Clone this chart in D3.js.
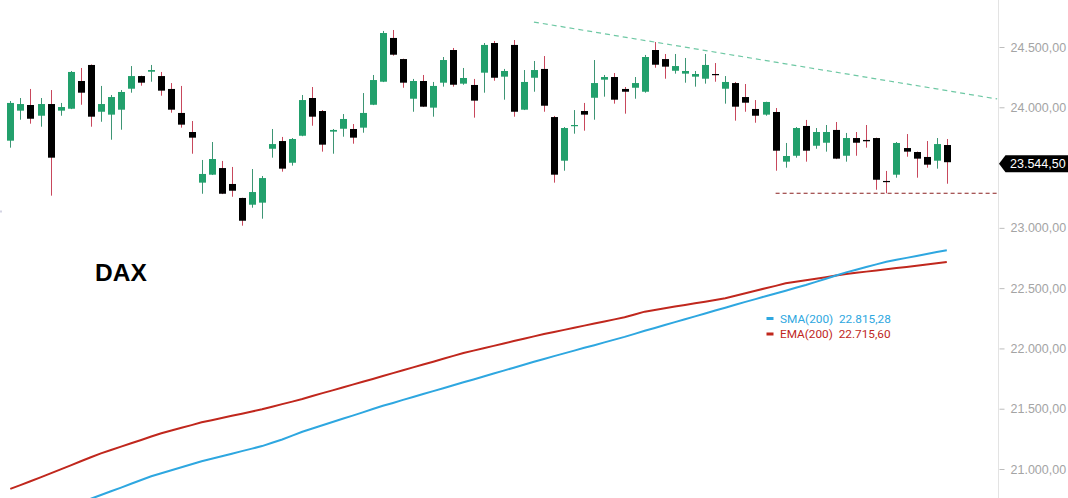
<!DOCTYPE html>
<html><head><meta charset="utf-8">
<script src="https://cdn.jsdelivr.net/npm/d3@7"></script>
<style>html,body{margin:0;padding:0;background:#fff;overflow:hidden}</style>
</head><body>
<svg id="c" width="1068" height="498"></svg>
<script>
// ---- data ----
// candles: [open, high, low, close]
const candles = [
[23723,24052,23665,24036],[23972,24077,23897,24027],[24019,24152,23864,23905],[23930,24077,23839,24027],
[24027,24143,23267,23582],[23972,24036,23930,24002],[23988,24301,23985,24293],[24218,24326,24021,24121],
[24351,24355,23839,23922],[23963,24177,23880,24027],[23939,24102,23731,24085],[23980,24143,23814,24127],
[24154,24342,24121,24259],[24259,24262,24179,24204],[24295,24351,24212,24309],[24259,24293,24096,24138],
[24152,24201,23955,23980],[23953,24177,23831,23856],[23795,23886,23615,23748],[23375,23563,23283,23447],
[23441,23712,23438,23571],[23496,23555,23280,23283],[23364,23505,23258,23308],[23248,23250,23018,23059],
[23192,23488,23167,23297],[23209,23430,23076,23413],[23656,23820,23582,23695],[23720,23754,23466,23491],
[23540,23745,23516,23737],[23764,24102,23760,24060],[24077,24168,23847,23922],[23969,23977,23632,23690],
[23798,23820,23615,23812],[23822,23944,23756,23903],[23820,23861,23698,23748],[23831,24118,23789,23953],
[24021,24268,24018,24226],[24212,24633,24209,24616],[24575,24641,24428,24436],[24400,24403,24162,24204],
[24071,24235,23963,24218],[24218,24268,24002,24005],[23997,24210,23922,24177],[24204,24417,24171,24392],
[24475,24492,24171,24187],[24196,24326,24187,24243],[24185,24235,23914,24055],[24287,24533,24121,24517],
[24533,24550,24220,24245],[24254,24318,24063,24301],[24517,24558,23922,23963],[23980,24309,23977,24210],
[24245,24384,24129,24309],[24318,24425,23963,24013],[23919,23928,23375,23441],[23557,23836,23474,23828],
[23847,23977,23781,23853],[23969,24036,23806,23939],[24079,24392,23897,24201],[24229,24268,24088,24251],
[24251,24284,24030,24063],[24152,24168,23947,24129],[24162,24251,24071,24201],[24129,24434,24121,24417],
[24475,24541,24328,24353],[24400,24442,24237,24337],[24303,24442,24279,24342],[24279,24409,24204,24301],
[24254,24301,24171,24276],[24237,24442,24196,24351],[24276,24367,24212,24270],[24154,24259,24030,24210],
[24201,24210,23889,24005],[24085,24193,23963,24038],[23986,24060,23872,23930],[23939,24046,23930,24044],
[23961,23994,23474,23640],[23549,23704,23499,23596],[23598,23836,23582,23828],[23845,23895,23549,23640],
[23681,23828,23656,23795],[23706,23853,23632,23795],[23812,23878,23570,23574],[23598,23787,23549,23745],
[23745,23795,23598,23706],[23729,23853,23665,23718],[23745,23748,23316,23399],[23389,23472,23287,23383],
[23441,23712,23416,23704],[23662,23778,23590,23632],[23629,23633,23416,23574],[23588,23720,23499,23524],
[23557,23745,23491,23695],[23687,23737,23366,23544.5]
];
const sma200 = [
20500,20532,20563,20595,20626,20658,20690,20721,20753,20784,
20815,20846,20878,20909,20940,20965,20990,21014,21039,21064,
21085,21106,21127,21148,21169,21190,21218,21245,21277,21309,
21336,21363,21390,21417,21443,21470,21497,21524,21548,21573,
21597,21622,21646,21670,21695,21719,21743,21767,21792,21816,
21840,21864,21889,21913,21936,21959,21982,22005,22027,22050,
22073,22096,22121,22146,22170,22194,22218,22242,22266,22290,
22314,22338,22362,22386,22409,22433,22456,22479,22503,22526,
22552,22578,22605,22631,22653,22675,22697,22719,22735,22751,
22767,22783,22799,22815
];
const ema200 = [
20835,20866,20898,20931,20964,20997,21030,21064,21097,21130,
21158,21186,21213,21241,21269,21296,21319,21342,21364,21387,
21405,21423,21441,21459,21477,21495,21516,21538,21559,21581,
21605,21629,21652,21676,21700,21724,21747,21771,21795,21819,
21843,21867,21890,21914,21938,21962,21982,22001,22021,22041,
22061,22080,22100,22120,22137,22154,22172,22189,22206,22223,
22241,22258,22281,22305,22319,22333,22347,22361,22374,22388,
22402,22416,22437,22457,22478,22499,22519,22540,22553,22566,
22578,22591,22604,22617,22627,22637,22647,22657,22667,22676,
22686,22696,22706,22716
];
// 23.500,00 is hidden behind the last-price tag in the reference
const yTicks = [21000,21500,22000,22500,23000,24000,24500];
const trendLine = [[52,24707],[98,24069]];
const supportLine = [[76,23287],[98,23287]];
const lastPrice = 23544.5;
const smaLast = 22815.28, emaLast = 22715.60;
const title = "DAX";

// ---- drawing ----
const svg = d3.select("#c");
const W = 1068, H = 498, axisX = 998.5;
const x = d3.scaleLinear().domain([0, 93]).range([10.3, 946.8]);
const y = d3.scaleLinear().domain([21000, 24500]).range([469, 47]);
const loc = d3.formatLocale({decimal: ",", thousands: ".", grouping: [3], currency: ["", ""]});
const fmt = loc.format(",.2f");

const GREEN = "#22a06c", GWICK = "#3d9574", RWICK = "#c8475c";

// axis
svg.append("line").attr("x1", axisX).attr("x2", axisX).attr("y1", 0).attr("y2", H)
  .attr("stroke", "#e3e3e3").attr("stroke-width", 1);
const axis = d3.axisRight(y).tickValues(yTicks).tickSize(5).tickPadding(6).tickFormat(fmt);
const ag = svg.append("g").attr("transform", `translate(${axisX + 1},0)`).call(axis);
ag.select(".domain").remove();
ag.selectAll(".tick line").attr("stroke", "#bdbdbd");
ag.selectAll(".tick text").attr("fill", "#a4a4a4").attr("font-size", 12.5)
  .attr("font-family", "'Liberation Sans', Arial, sans-serif");

// small mark at left edge
svg.append("rect").attr("x", 0).attr("y", 210.5).attr("width", 2).attr("height", 2).attr("fill", "#d4d4e4");

// SMA / EMA lines
const line = d3.line().x((d, i) => x(i)).y(d => y(d));
svg.append("path").datum(ema200).attr("d", line).attr("fill", "none")
  .attr("stroke", "#c0271d").attr("stroke-width", 2);
svg.append("path").datum(sma200).attr("d", line).attr("fill", "none")
  .attr("stroke", "#2ea7e0").attr("stroke-width", 2);

// trend + support lines
const pl = d3.line().x(d => x(d[0])).y(d => y(d[1]));
svg.append("path").datum(trendLine).attr("d", pl).attr("fill", "none")
  .attr("stroke", "#3db585").attr("stroke-opacity", 0.75).attr("stroke-width", 1.2)
  .attr("stroke-dasharray", "5,4");
svg.append("path").datum(supportLine).attr("d", pl).attr("fill", "none")
  .attr("stroke", "#8a2020").attr("stroke-width", 1.2).attr("stroke-dasharray", "4,3");

// candles
const bw = 7;
const cg = svg.append("g");
candles.forEach((c, i) => {
  const [o, h, l, cl] = c;
  const up = cl >= o;
  const cx = Math.round(x(i)) + 0.5;
  cg.append("line").attr("x1", cx).attr("x2", cx).attr("y1", y(h)).attr("y2", y(l))
    .attr("stroke", up ? GWICK : RWICK).attr("stroke-width", 1);
  const top = y(Math.max(o, cl)), bot = y(Math.min(o, cl));
  cg.append("rect").attr("x", cx - bw / 2).attr("y", top).attr("width", bw)
    .attr("height", Math.max(1.2, bot - top)).attr("fill", up ? GREEN : "#000");
});

// title
svg.append("text").attr("x", 95).attr("y", 280.5).text(title)
  .attr("font-family", "'Liberation Sans', Arial, sans-serif").attr("font-weight", "bold")
  .attr("font-size", 24.5).attr("fill", "#000");

// legend
const lg = svg.append("g").attr("font-family", "Roboto, 'Liberation Sans', sans-serif").attr("font-size", 11.8);
[["SMA(200)", smaLast, "#2ea7e0", 318.5], ["EMA(200)", emaLast, "#c0271d", 334]].forEach(([n, v, col, yy]) => {
  lg.append("rect").attr("x", 766.5).attr("y", yy - 1.5).attr("width", 7).attr("height", 3).attr("fill", col);
  lg.append("text").attr("x", 780).attr("y", yy + 4).attr("fill", col)
    .attr("xml:space", "preserve").text(n + "  " + fmt(v));
});

// last price tag
const ty = y(lastPrice) + 1.5;
svg.append("path")
  .attr("d", `M${axisX + 0.5},${ty} L${axisX + 7},${ty - 8.5} L${W},${ty - 8.5} L${W},${ty + 8.5} L${axisX + 7},${ty + 8.5} Z`)
  .attr("fill", "#000");
svg.append("text").attr("x", 1010).attr("y", ty + 4.5).text(fmt(lastPrice))
  .attr("fill", "#fff").attr("font-size", 12.5).attr("font-family", "'Liberation Sans', Arial, sans-serif");
</script>
</body></html>
